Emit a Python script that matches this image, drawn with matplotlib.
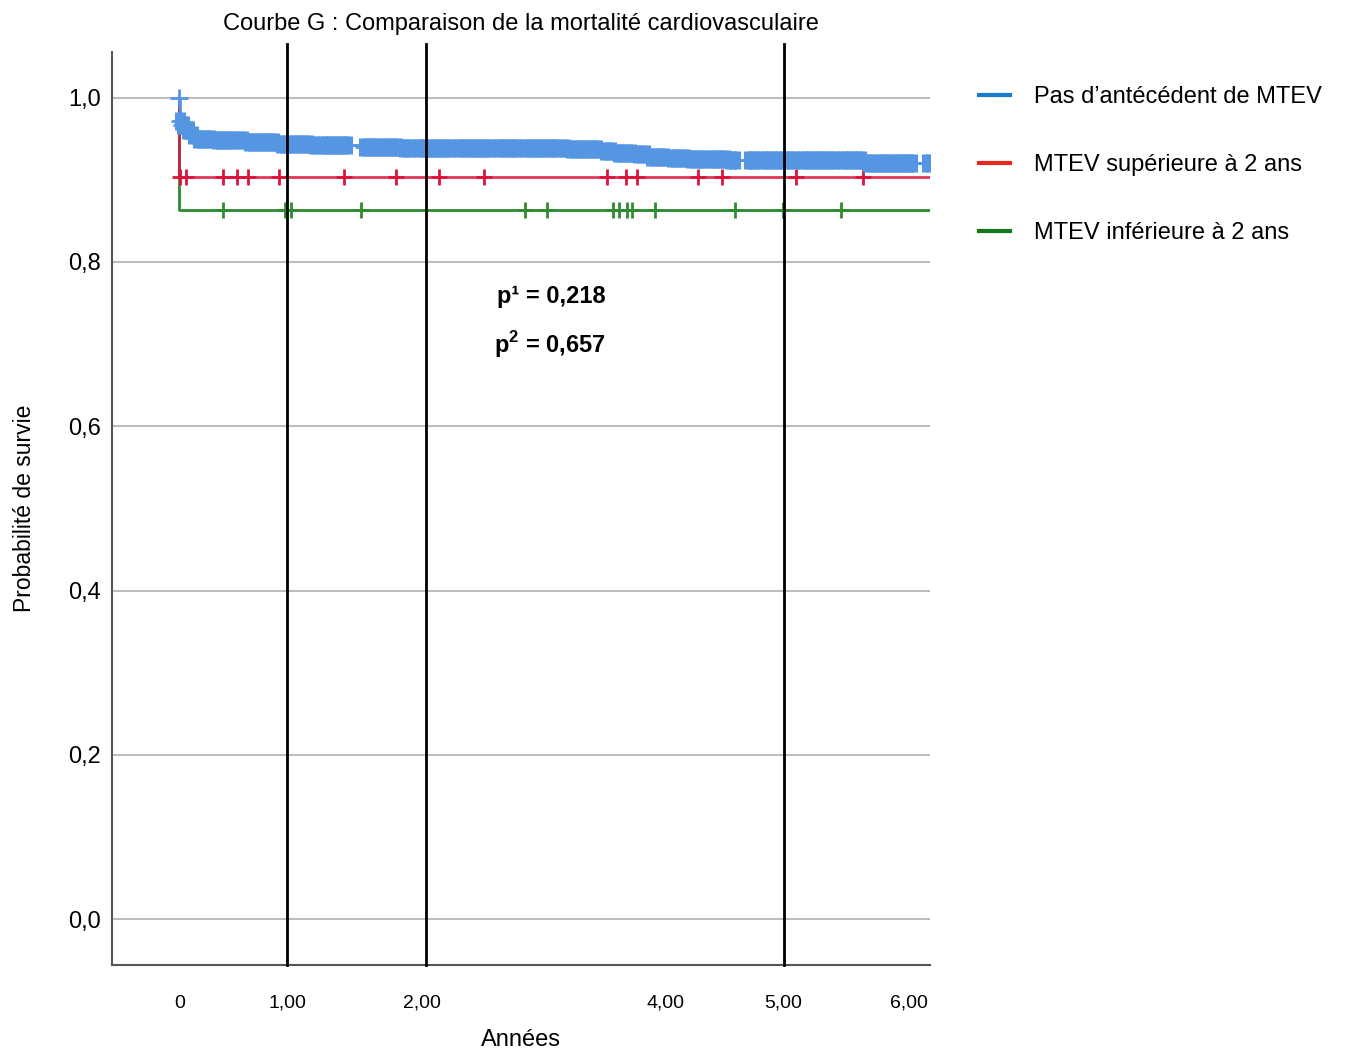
import numpy as np
import matplotlib
matplotlib.use('Agg')
import matplotlib.pyplot as plt
from matplotlib.lines import Line2D

plt.rcParams['font.family'] = ['Liberation Sans', 'DejaVu Sans']
plt.rcParams['mathtext.fontset'] = 'custom'
plt.rcParams['mathtext.bf'] = 'Liberation Sans:bold'
plt.rcParams['mathtext.rm'] = 'Liberation Sans'

title = 'Courbe G : Comparaison de la mortalité cardiovasculaire'
labels = ['Pas d’antécédent de MTEV', 'MTEV supérieure à 2 ans', 'MTEV inférieure à 2 ans']

# Kaplan-Meier steps (time in years, survival after the step)
blue_t = [0.0, 0.002, 0.02, 0.05, 0.09, 0.12, 0.3, 0.55, 0.8, 1.1, 1.5, 1.8, 3.2, 3.45,
          3.6, 3.75, 3.85, 4.0, 4.2, 4.5, 5.64, 6.3]
blue_s = [1.0, 0.972, 0.967, 0.961, 0.955, 0.950, 0.948, 0.946, 0.944, 0.942, 0.940, 0.939,
          0.937, 0.935, 0.9325, 0.931, 0.928, 0.926, 0.925, 0.924, 0.920, 0.920]
red_t = [0.0, 0.001, 6.3]
red_s = [1.0, 0.9034, 0.9034]
green_t = [0.0, 0.001, 6.3]
green_s = [1.0, 0.8637, 0.8637]

# censored observations
blue_cens = [0.0, 0.005, 0.02, 0.04, 0.06, 0.08, 0.11, 0.15, 0.2, 0.25, 0.31, 0.36, 0.41, 0.46,
             0.52, 0.57, 0.62, 0.68, 0.73, 0.78, 0.84, 0.89, 0.95, 1.0, 1.06, 1.11, 1.17, 1.22,
             1.28, 1.33, 1.38, 1.52, 1.57, 1.63, 1.68, 1.74, 1.79, 1.85, 1.9, 1.96, 2.01, 2.07,
             2.12, 2.18, 2.23, 2.29, 2.34, 2.4, 2.45, 2.51, 2.56, 2.62, 2.67, 2.73, 2.78, 2.84,
             2.89, 2.95, 3.0, 3.06, 3.11, 3.17, 3.22, 3.28, 3.33, 3.39, 3.44, 3.5, 3.55, 3.61,
             3.66, 3.72, 3.77, 3.83, 3.88, 3.94, 3.99, 4.05, 4.1, 4.16, 4.21, 4.27, 4.32, 4.38,
             4.43, 4.49, 4.53, 4.57, 4.69, 4.73, 4.79, 4.84, 4.9, 4.95, 5.01, 5.06, 5.12, 5.17,
             5.23, 5.28, 5.34, 5.39, 5.45, 5.5, 5.56, 5.61, 5.67, 5.72, 5.78, 5.83, 5.89, 5.94,
             5.99, 6.03, 6.15]
red_cens = [0.006, 0.055, 0.36, 0.477, 0.565, 0.82, 1.357, 1.785, 2.139, 2.507, 3.521, 3.675,
            3.763, 4.265, 4.467, 5.074, 5.627]
green_cens = [0.36, 0.87, 0.919, 1.492, 2.844, 3.025, 3.571, 3.62, 3.681, 3.727, 3.916, 4.569,
              4.964, 5.446]

# hand drawn reference lines
ref_lines = [0.889, 2.027, 4.972]

p_texts = ['p¹ = 0,218', r'p$^{\mathbf{2}}$ = 0,657']

xtick_pos = [0, 0.889, 2, 4, 4.972, 6]
xtick_lab = ['0', '1,00', '2,00', '4,00', '5,00', '6,00']
xgrid_pos = [0, 2, 4, 6]
ytick_pos = [0.0, 0.2, 0.4, 0.6, 0.8, 1.0]
ytick_lab = ['0,0', '0,2', '0,4', '0,6', '0,8', '1,0']

c_blue = '#5596e3'
c_red = '#dc143c'
c_green = '#2e8b2e'
leg_cols = ['#1a7ccc', '#e8281e', '#13781a']


def at(t, s, c):
    t = np.asarray(t)
    s = np.asarray(s)
    return s[np.searchsorted(t, c, side='right') - 1]


fig = plt.figure(figsize=(13.45, 10.52), dpi=100)
ax = fig.add_axes([112/1345, 87/1052, 818/1345, 913/1052])

ax.set_xlim(-0.554, 6.176)
ax.set_ylim(-0.0556, 1.0555)

ax.step(green_t, green_s, where='post', color=c_green, lw=2, zorder=3)
ax.step(red_t, red_s, where='post', color=c_red, lw=2, alpha=0.85, zorder=3)
ax.step(blue_t, blue_s, where='post', color=c_blue, lw=2, zorder=4)

bc = np.array(blue_cens)
by = at(blue_t, blue_s, bc)
ax.plot(bc[bc > 0], by[bc > 0], ls='none', marker='|', ms=13.5, mew=8, color=c_blue, zorder=4)
ax.plot(bc, by, ls='none', marker='+', ms=13.5, mew=2, color=c_blue, zorder=4)
ax.plot(red_cens, at(red_t, red_s, red_cens), ls='none', marker='+', ms=12, mew=2,
        color=c_red, zorder=3)
ax.plot(green_cens, at(green_t, green_s, green_cens), ls='none', marker='+', ms=11, mew=2,
        color=c_green, zorder=3)

for x in ref_lines:
    ax.axvline(x, ymin=0, ymax=1.0084, color='black', lw=2, clip_on=False, zorder=5)

ax.text(2.614, 0.758, p_texts[0], fontsize=17, fontweight='bold', va='center')
ax.text(2.59, 0.699, p_texts[1], fontsize=17, fontweight='bold', va='center')

ax.set_xticks(xtick_pos, xtick_lab, fontsize=14)
ax.set_xticks(xgrid_pos, minor=True)
ax.set_yticks(ytick_pos, ytick_lab, fontsize=17)
ax.tick_params(axis='x', which='both', length=0, pad=21.5)
ax.tick_params(axis='y', length=0, pad=8)
ax.grid(axis='x', which='minor', color='#bdbdbd', lw=1.5)
ax.grid(axis='y', which='major', color='#bdbdbd', lw=1.5)
ax.set_axisbelow(True)

for side in ['top', 'right']:
    ax.spines[side].set_visible(False)
for side in ['left', 'bottom']:
    ax.spines[side].set_color('#555555')
    ax.spines[side].set_linewidth(1.5)

ax.set_xlabel('Années', fontsize=17, labelpad=12)
ax.set_ylabel('Probabilité de survie', fontsize=16.5, labelpad=23)
ax.set_title(title, fontsize=17, pad=16)

handles = [Line2D([], [], color=c, lw=3) for c in leg_cols]
fig.legend(handles, labels, loc='upper left', bbox_to_anchor=(979/1345, 1 - 86/1052),
           frameon=False, fontsize=17, handlelength=1.3, handletextpad=1.05,
           labelspacing=1.95, borderpad=0, borderaxespad=0)

fig.savefig('out.png', dpi=100)
